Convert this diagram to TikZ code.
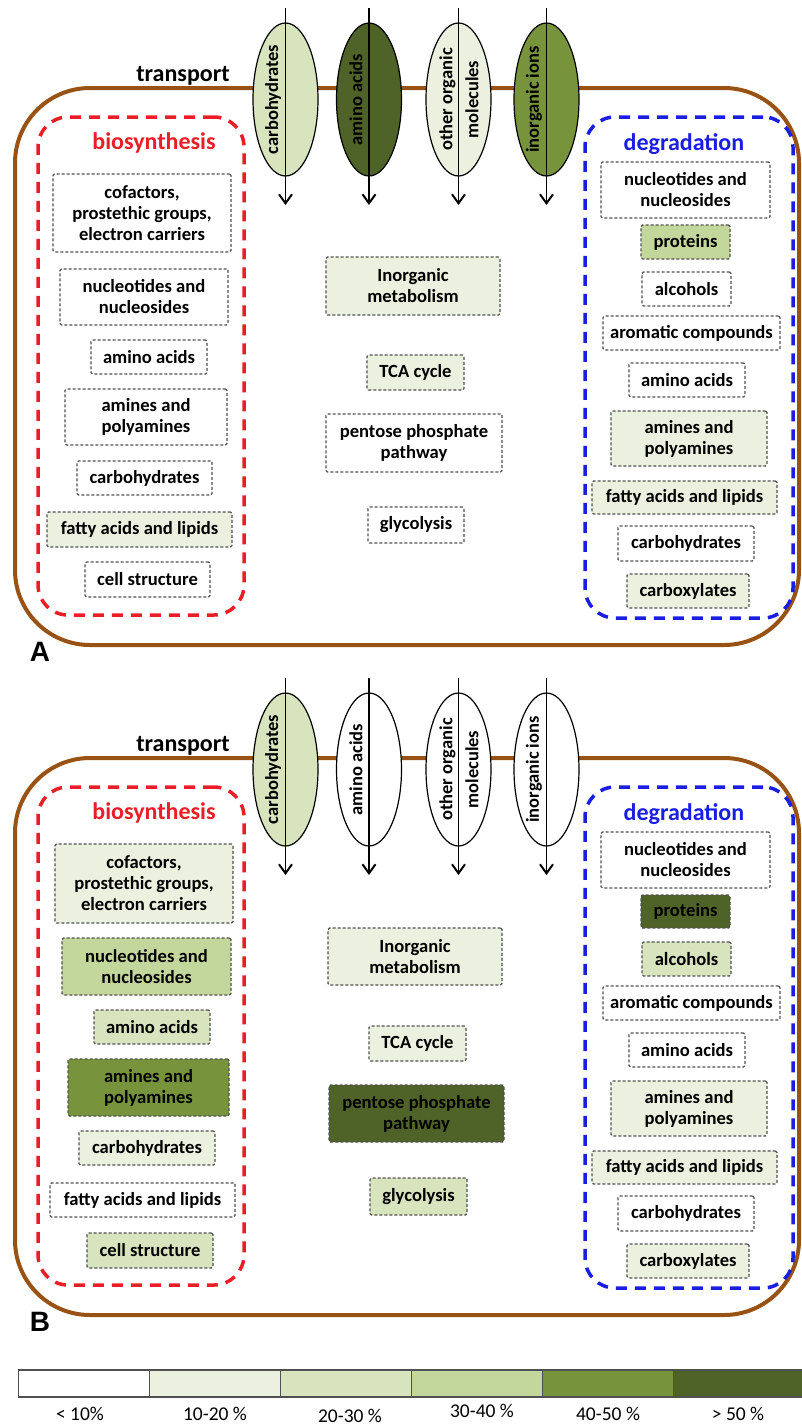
\documentclass[tikz,border=0pt]{standalone}
\usepackage{fontspec}
\setmainfont{Carlito}
\newfontfamily\labfont{Liberation Sans}
\usetikzlibrary{shapes.geometric,arrows.meta}
\definecolor{cA}{HTML}{FFFFFF}
\definecolor{cB}{HTML}{EBF1DE}
\definecolor{cC}{HTML}{D7E4BD}
\definecolor{cD}{HTML}{C3D69B}
\definecolor{cE}{HTML}{77933C}
\definecolor{cF}{HTML}{4F6228}
\definecolor{brownline}{RGB}{152,82,20}
\definecolor{redline}{RGB}{235,30,40}
\definecolor{blueline}{RGB}{25,30,225}
\definecolor{boxgray}{RGB}{80,80,80}
\newcommand{\bxfont}{\bfseries\fontsize{18.6}{21}\selectfont}
\newcommand{\cb}[7]{\node[cbox, fill=#2, minimum width={(#5-#3)*1pt}, minimum height={(#6-#4)*1pt}] (#1) at ({(#3+#5)/2},{(#4+#6)/2}) {#7};}
\begin{document}
\begin{tikzpicture}[x=1pt,y=-1pt,
  cbox/.style={draw=boxgray, line width=1.2pt, dash pattern=on 3pt off 2pt, rounded corners=1.5pt, align=center, inner sep=0pt, font=\bxfont, text=black},
  cellbox/.style={draw=brownline, line width=4pt, rounded corners=75pt, minimum width=784pt, minimum height=557pt, inner sep=0pt},
  biobox/.style={draw=redline, line width=3.5pt, dash pattern=on 11pt off 8pt, rounded corners=30pt, minimum width=206pt, minimum height=498pt, inner sep=0pt},
  degbox/.style={draw=blueline, line width=3.5pt, dash pattern=on 11pt off 8pt, rounded corners=30pt, minimum width=208pt, minimum height=501pt, inner sep=0pt},
  bioh/.style={text=redline, font=\bfseries\fontsize{24}{28}\selectfont, inner sep=0pt},
  degh/.style={text=blueline, font=\bfseries\fontsize{24}{28}\selectfont, inner sep=0pt},
  trans/.style={font=\bfseries\fontsize{24}{28}\selectfont, inner sep=0pt},
  ell/.style={ellipse, draw=black, line width=1.2pt, minimum width=65pt, minimum height=153pt, inner sep=0pt},
  etxt/.style={rotate=90, font=\bfseries\fontsize{18.5}{26}\selectfont, align=center, inner sep=0pt},
  flow/.style={draw=black, line width=1.3pt, -{Straight Barb[length=9pt,width=13pt,line width=2pt]}},
  panlab/.style={font=\labfont\bfseries\fontsize{28}{28}\selectfont, inner sep=0pt},
  legcell/.style={draw=boxgray, line width=1.3pt, minimum height=27pt, minimum width=131pt, inner sep=0pt},
  legtxt/.style={font=\fontsize{19.5}{22}\selectfont, inner sep=0pt}
]
\fill[white] (0,0) rectangle (801,1427);
\useasboundingbox (0,0) rectangle (801,1427);

% ================= Panel A =================
\node[cellbox] (cellA) at (407,366.5) {};
\node[biobox] (bioA) at (141,366) {};
\node[degbox] (degA) at (689,367.5) {};
\node[trans] (trA) at (183,76) {transport};
\node[bioh] (bioAh) at (154,143) {biosynthesis};
\node[degh] (degAh) at (684,144) {degradation};

\node[ell, fill=cC] (eA1) at (285.5,99.5) {};
\node[ell, fill=cF] (eA2) at (369,99.5) {};
\node[ell, fill=cB] (eA3) at (458.5,99.5) {};
\node[ell, fill=cE] (eA4) at (546.5,99.5) {};
\node[etxt] (tA1) at (273,99.5) {carbohydrates};
\node[etxt] (tA2) at (356,99.5) {amino acids};
\node[etxt] (tA3) at (459,99.5) {other organic\\molecules};
\node[etxt] (tA4) at (534,99.5) {inorganic ions};
\coordinate (sA1) at (285.5,8);  \coordinate (dA1) at (285.5,205);
\coordinate (sA2) at (369,8);    \coordinate (dA2) at (369,205);
\coordinate (sA3) at (458.5,8);  \coordinate (dA3) at (458.5,205);
\coordinate (sA4) at (546.5,8);  \coordinate (dA4) at (546.5,205);
\draw[flow] (sA1) -- (dA1);
\draw[flow] (sA2) -- (dA2);
\draw[flow] (sA3) -- (dA3);
\draw[flow] (sA4) -- (dA4);

\cb{bA1}{cA}{53}{174}{231}{252}{cofactors,\\prostethic groups,\\electron carriers}
\cb{bA2}{cA}{60}{269}{228}{325}{nucleotides and\\nucleosides}
\cb{bA3}{cA}{91}{340}{207}{374}{amino acids}
\cb{bA4}{cA}{65}{389}{227}{445}{amines and\\polyamines}
\cb{bA5}{cA}{77}{461}{212}{495}{carbohydrates}
\cb{bA6}{cB}{47}{512}{232}{547}{fatty acids and lipids}
\cb{bA7}{cA}{85}{562}{210}{597}{cell structure}

\cb{dgA1}{cA}{601}{162}{770}{218}{nucleotides and\\nucleosides}
\cb{dgA2}{cD}{641}{225}{730}{259}{proteins}
\cb{dgA3}{cA}{642}{272}{731}{306}{alcohols}
\cb{dgA4}{cA}{603}{316}{780}{350}{aromatic compounds}
\cb{dgA5}{cA}{629}{363}{745}{397}{amino acids}
\cb{dgA6}{cB}{611}{411}{767}{466}{amines and\\polyamines}
\cb{dgA7}{cB}{592}{481}{777}{514}{fatty acids and lipids}
\cb{dgA8}{cA}{618}{526}{754}{561}{carbohydrates}
\cb{dgA9}{cB}{627}{574}{749}{608}{carboxylates}

\cb{mA1}{cB}{326}{257}{500}{315}{Inorganic\\metabolism}
\cb{mA2}{cB}{367}{355}{464}{390}{TCA cycle}
\cb{mA3}{cA}{326}{414}{502}{472}{pentose phosphate\\pathway}
\cb{mA4}{cA}{368}{507}{464}{543}{glycolysis}

\node[panlab] (labA) at (40,652) {A};

% ================= Panel B =================
\begin{scope}[yshift=-670pt]
\node[cellbox] (cellB) at (407,366.5) {};
\node[biobox] (bioB) at (141,366) {};
\node[degbox] (degB) at (689,367.5) {};
\node[trans] (trB) at (183,76) {transport};
\node[bioh] (bioBh) at (154,143) {biosynthesis};
\node[degh] (degBh) at (684,144) {degradation};

\node[ell, fill=cC] (eB1) at (285.5,99.5) {};
\node[ell, fill=cA] (eB2) at (369,99.5) {};
\node[ell, fill=cA] (eB3) at (458.5,99.5) {};
\node[ell, fill=cA] (eB4) at (546.5,99.5) {};
\node[etxt] (tB1) at (273,99.5) {carbohydrates};
\node[etxt] (tB2) at (356,99.5) {amino acids};
\node[etxt] (tB3) at (459,99.5) {other organic\\molecules};
\node[etxt] (tB4) at (534,99.5) {inorganic ions};
\coordinate (sB1) at (285.5,8);  \coordinate (dB1) at (285.5,205);
\coordinate (sB2) at (369,8);    \coordinate (dB2) at (369,205);
\coordinate (sB3) at (458.5,8);  \coordinate (dB3) at (458.5,205);
\coordinate (sB4) at (546.5,8);  \coordinate (dB4) at (546.5,205);
\draw[flow] (sB1) -- (dB1);
\draw[flow] (sB2) -- (dB2);
\draw[flow] (sB3) -- (dB3);
\draw[flow] (sB4) -- (dB4);

\cb{bB1}{cB}{55}{174}{233}{253}{cofactors,\\prostethic groups,\\electron carriers}
\cb{bB2}{cD}{62}{268}{231}{325}{nucleotides and\\nucleosides}
\cb{bB3}{cC}{94}{340}{210}{374}{amino acids}
\cb{bB4}{cE}{68}{389}{229}{446}{amines and\\polyamines}
\cb{bB5}{cB}{79}{461}{215}{495}{carbohydrates}
\cb{bB6}{cA}{50}{513}{235}{547}{fatty acids and lipids}
\cb{bB7}{cC}{87}{563}{213}{598}{cell structure}

\cb{dgB1}{cA}{601}{162}{770}{218}{nucleotides and\\nucleosides}
\cb{dgB2}{cF}{641}{225}{730}{258}{proteins}
\cb{dgB3}{cC}{642}{272}{731}{306}{alcohols}
\cb{dgB4}{cA}{603}{316}{780}{350}{aromatic compounds}
\cb{dgB5}{cA}{629}{363}{745}{397}{amino acids}
\cb{dgB6}{cB}{611}{411}{767}{466}{amines and\\polyamines}
\cb{dgB7}{cB}{592}{481}{777}{514}{fatty acids and lipids}
\cb{dgB8}{cA}{618}{526}{754}{561}{carbohydrates}
\cb{dgB9}{cB}{627}{574}{749}{608}{carboxylates}

\cb{mB1}{cB}{328}{258}{502}{315}{Inorganic\\metabolism}
\cb{mB2}{cB}{369}{356}{466}{391}{TCA cycle}
\cb{mB3}{cF}{329}{415}{504}{472}{pentose phosphate\\pathway}
\cb{mB4}{cC}{370}{508}{467}{545}{glycolysis}

\node[panlab] (labB) at (40,652) {B};
\end{scope}

% ================= Legend =================
\node[legcell, fill=cA] (lg1) at (84,1383.5) {};
\node[legcell, fill=cB] (lg2) at (215,1383.5) {};
\node[legcell, fill=cC] (lg3) at (346,1383.5) {};
\node[legcell, fill=cD] (lg4) at (477,1383.5) {};
\node[legcell, fill=cE] (lg5) at (608,1383.5) {};
\node[legcell, fill=cF] (lg6) at (739,1383.5) {};
\node[legtxt] (lt1) at (80,1414) {< 10\%};
\node[legtxt] (lt2) at (215,1414) {10-20 \%};
\node[legtxt] (lt3) at (350,1416) {20-30 \%};
\node[legtxt] (lt4) at (482,1411) {30-40 \%};
\node[legtxt] (lt5) at (608,1414) {40-50 \%};
\node[legtxt] (lt6) at (738,1414) {> 50 \%};
\end{tikzpicture}
\end{document}
